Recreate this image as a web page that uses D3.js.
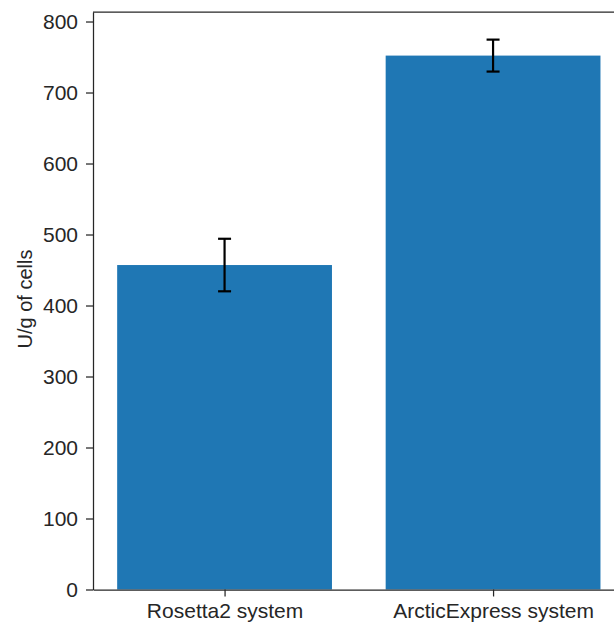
<!DOCTYPE html>
<html>
<head>
<meta charset="utf-8">
<script src="https://cdn.jsdelivr.net/npm/d3@7"></script>
<style>
body{margin:0;background:#fff;overflow:hidden;}
svg{display:block;}
text{font-family:"Liberation Sans",Arial,sans-serif;fill:#262626;}
</style>
</head>
<body>
<script>
var categories=["Rosetta2 system","ArcticExpress system"];
var values=[457,752];
var errors=[37,22.5];
var yticks=[0,100,200,300,400,500,600,700,800];

var width=614,height=623;
var padLeft=93,padTop=12,padBottom=589.5;
var svg=d3.select("body").append("svg").attr("width",width).attr("height",height);

var xscale=d3.scaleLinear().domain([-0.49,1.49]).range([padLeft,padLeft+1.98*268.5]);
var yscale=d3.scaleLinear().domain([0,813.4]).range([padBottom,padTop]);

var g=svg.append("g");

g.selectAll("rect.bar").data(values).enter().append("rect").attr("class","bar")
	.attr("x",function(d,i){return xscale(i-0.4);})
	.attr("width",function(d,i){return xscale(i+0.4)-xscale(i-0.4);})
	.attr("y",function(d){return yscale(d);})
	.attr("height",function(d){return padBottom-yscale(d);})
	.style("fill","#1f77b4");

// error bars
var eb=g.selectAll("g.err").data(values).enter().append("g").attr("class","err");
eb.append("line").attr("x1",function(d,i){return xscale(i);}).attr("x2",function(d,i){return xscale(i);})
	.attr("y1",function(d,i){return yscale(d-errors[i]);}).attr("y2",function(d,i){return yscale(d+errors[i]);})
	.style("stroke","#000").style("stroke-width",2.2);
eb.append("line").attr("x1",function(d,i){return xscale(i)-6.5;}).attr("x2",function(d,i){return xscale(i)+6.5;})
	.attr("y1",function(d,i){return yscale(d+errors[i]);}).attr("y2",function(d,i){return yscale(d+errors[i]);})
	.style("stroke","#000").style("stroke-width",2.2);
eb.append("line").attr("x1",function(d,i){return xscale(i)-6.5;}).attr("x2",function(d,i){return xscale(i)+6.5;})
	.attr("y1",function(d,i){return yscale(d-errors[i]);}).attr("y2",function(d,i){return yscale(d-errors[i]);})
	.style("stroke","#000").style("stroke-width",2.2);

var yaxis=d3.axisLeft(yscale).tickValues(yticks).tickSize(7).tickPadding(8).tickSizeOuter(0);
var xaxis=d3.axisBottom(xscale).tickValues([0,1]).tickFormat(function(d){return categories[d];}).tickSize(7).tickPadding(7).tickSizeOuter(0);

var ya=g.append("g").attr("transform","translate("+padLeft+",0)").call(yaxis);
var xa=g.append("g").attr("transform","translate(0,"+padBottom+")").call(xaxis);
[ya,xa].forEach(function(a){
	a.selectAll("text").style("font-size","21px").style("fill","#262626").style("font-family","'Liberation Sans',Arial,sans-serif");
	a.selectAll("line").style("stroke","#262626").style("stroke-width",1.25);
	a.select(".domain").style("stroke","#262626").style("stroke-width",1.25);
});
// top spine
g.append("line").attr("x1",padLeft).attr("x2",xscale(1.49)).attr("y1",padTop).attr("y2",padTop)
	.style("stroke","#262626").style("stroke-width",1.25);

svg.append("text").attr("transform","translate(32,299) rotate(-90)")
	.attr("text-anchor","middle").style("font-size","20px").text("U/g of cells");
</script>
</body>
</html>
